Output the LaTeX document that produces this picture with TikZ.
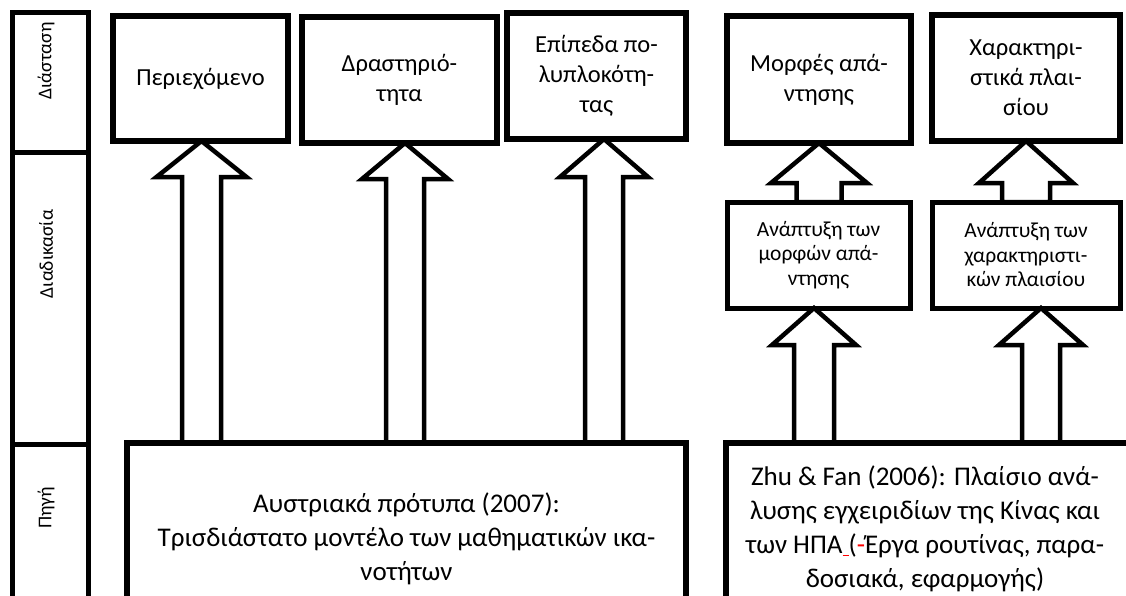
\documentclass[tikz,border=0pt]{standalone}
\usepackage{fontspec}
\setmainfont{Carlito}
\usetikzlibrary{calc}
\pgfdeclarelayer{bg}
\pgfdeclarelayer{arr}
\pgfsetlayers{bg,arr,main}
\tikzset{
  topbox/.style={draw, line width=6.5pt, outer sep=0pt, inner sep=0pt, align=center,
    font=\fontsize{24.5}{30}\selectfont},
  midbox/.style={draw, line width=5pt, outer sep=0pt, inner sep=0pt, align=center,
    font=\fontsize{21.5}{24.5}\selectfont},
  botbox/.style={draw, line width=6.5pt, outer sep=0pt, inner sep=0pt},
  bottext/.style={align=center, inner sep=0pt, font=\fontsize{27}{34}\selectfont},
  colcell/.style={draw, line width=5pt, outer sep=0pt, inner sep=0pt},
  coltext/.style={rotate=90, inner sep=0pt, font=\fontsize{19.5}{22}\selectfont},
  blockarrow/.style={draw, fill=white, line width=4.5pt, line join=miter},
}
\newcommand{\blockarr}[6]{%
  \path[blockarrow] let \p1=(#2 -| #1), \p2=(#3 -| #1) in
    ({\x1-#4pt},\y2) -- ({\x1-#4pt},{\y1-#6pt}) -- ({\x1-#5pt},{\y1-#6pt}) -- (\x1,\y1)
    -- ({\x1+#5pt},{\y1-#6pt}) -- ({\x1+#4pt},{\y1-#6pt}) -- ({\x1+#4pt},\y2) -- cycle;}
\begin{document}
\begin{tikzpicture}[x=1pt,y=-1pt]
\useasboundingbox (0,0) rectangle (1126,595);
\begin{pgfonlayer}{bg}
\fill[white] (0,0) rectangle (1126,595);
\end{pgfonlayer}

% left column
\node[colcell, minimum width=76pt, minimum height=140pt] (c1) at (50,82) {};
\node[colcell, minimum width=76pt, minimum height=292pt] (c2) at (50,298) {};
\node[colcell, minimum width=76pt, minimum height=180pt] (c3) at (50,534) {};
\node[coltext] (t1) at (46,61) {Διάσταση};
\node[coltext] (t2) at (46,254) {Διαδικασία};
\node[coltext] (t3) at (46,508) {Πηγή};

% top boxes
\node[topbox, minimum width=175pt, minimum height=125pt] (b1) at (200.5,78.5) {Περιεχόμενο};
\node[topbox, minimum width=195pt, minimum height=126pt] (b2) at (399.5,80) {Δραστηριό-\\τητα};
\node[topbox, minimum width=179pt, minimum height=126pt] (b3) at (596.5,76) {Επίπεδα πο-\\λυπλοκότη-\\τας};
\node[topbox, minimum width=184pt, minimum height=127pt] (b4) at (819,79.5) {Μορφές απά-\\ντησης};
\node[topbox, minimum width=188pt, minimum height=126pt] (b5) at (1026,78) {Χαρακτηρι-\\στικά πλαι-\\σίου};

% middle boxes
\node[midbox, minimum width=183pt, minimum height=106pt] (m4) at (818.5,255) {Ανάπτυξη των\\μορφών απά-\\ντησης};
\node[midbox, minimum width=188pt, minimum height=106pt] (m5) at (1026,255) {Ανάπτυξη των\\χαρακτηριστι-\\κών πλαισίου};

% bottom boxes
\node[botbox, minimum width=559pt, minimum height=197pt] (sL) at (406.5,541.5) {};
\node[botbox, minimum width=414pt, minimum height=197pt] (sR) at (933,541.5) {};
\node[bottext] (sLt) at (406.5,539) {Αυστριακά πρότυπα (2007):\\Τρισδιάστατο μοντέλο των μαθηματικών ικα-\\νοτήτων};
\node[bottext] (sRt) at (925,529) {Zhu \& Fan (2006): Πλαίσιο ανά-\\λυσης εγχειριδίων της Κίνας και\\των ΗΠΑ{\color{red}\underline{\ }}(\textcolor{red}{-}Έργα ρουτίνας, παρα-\\δοσιακά, εφαρμογής)};

% block arrows
\coordinate (x1) at (201.5,0);
\coordinate (x2) at (405,0);
\coordinate (x3) at (604,0);
\coordinate (x4u) at (819,0);
\coordinate (x5u) at (1026,0);
\coordinate (x4l) at (814,0);
\coordinate (x5l) at (1041,0);
\begin{pgfonlayer}{arr}
\blockarr{x1}{b1.south}{sL.north}{19.5}{45}{36}
\blockarr{x2}{b2.south}{sL.north}{19}{43}{36}
\blockarr{x3}{b3.south}{sL.north}{19}{44}{38}
\blockarr{x4u}{b4.south}{m4.north}{22.5}{48}{40}
\blockarr{x5u}{b5.south}{m5.north}{24}{47}{42}
\blockarr{x4l}{m4.south}{sR.north}{20}{42}{37}
\blockarr{x5l}{m5.south}{sR.north}{19}{42}{37}
\end{pgfonlayer}
\end{tikzpicture}
\end{document}
